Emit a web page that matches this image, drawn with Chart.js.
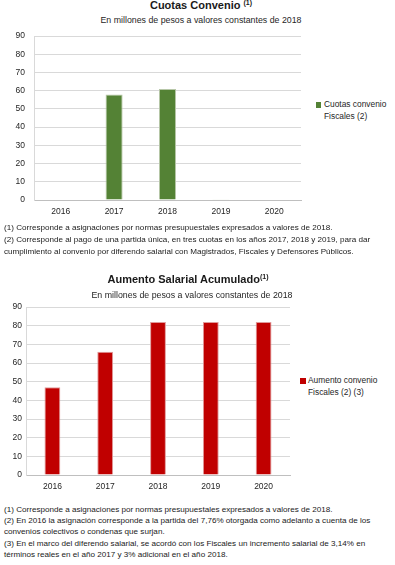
<!DOCTYPE html>
<html>
<head>
<meta charset="utf-8">
<script src="https://cdn.jsdelivr.net/npm/chart.js@4"></script>
<style>
  body { margin: 0; background: #fff; width: 395px; height: 565px; position: relative; overflow: hidden; font-family: "Liberation Sans", Arial, sans-serif; color: #262626; }
  .abs { position: absolute; white-space: nowrap; }
  .title { font-weight: bold; font-size: 11px; text-align: center; color: #1a1a1a; }
  .title sup { font-size: 7px; vertical-align: 4px; }
  .sub { font-size: 8.8px; text-align: center; }
  .legend { font-size: 8.4px; line-height: 11.5px; }
  .legend .box { position: absolute; width: 5px; height: 6px; }
  .note { font-size: 8.1px; line-height: 11.8px; color: #1a1a1a; }
  canvas { position: absolute; }
</style>
</head>
<body>
<div class="abs title" style="left:0;width:402px;top:-1px;">Cuotas Convenio <sup>(1)</sup></div>
<div class="abs sub" style="left:0;width:402px;top:15px;">En millones de pesos a valores constantes de 2018</div>
<canvas id="cuotasChart" width="305" height="202" style="left:0;top:22px;"></canvas>
<div class="abs legend" style="left:316px;top:99px;">
  <div class="box" style="left:0;top:3px;background:#548235;"></div>
  <div style="margin-left:8px;">Cuotas convenio<br>Fiscales (2)</div>
</div>
<div class="abs note" style="left:4px;top:222px;">(1) Corresponde a asignaciones por normas presupuestales expresados a valores de 2018.<br>(2) Corresponde al pago de una partida única, en tres cuotas en los años 2017, 2018 y 2019, para dar<br>cumplimiento al convenio por diferendo salarial con Magistrados, Fiscales y Defensores Públicos.</div>

<div class="abs title" style="left:0;width:376px;top:273px;">Aumento Salarial Acumulado<sup>(1)</sup></div>
<div class="abs sub" style="left:0;width:384px;top:290px;">En millones de pesos a valores constantes de 2018</div>
<canvas id="aumentoChart" width="294" height="201" style="left:0;top:298px;"></canvas>
<div class="abs legend" style="left:300px;top:375px;">
  <div class="box" style="left:0;top:3px;width:6px;background:#c00000;"></div>
  <div style="margin-left:8px;">Aumento convenio<br>Fiscales (2) (3)</div>
</div>
<div class="abs note" style="left:4px;top:504px;line-height:11.2px;">(1) Corresponde a asignaciones por normas presupuestales expresados a valores de 2018.<br>(2) En 2016 la asignación corresponde a la partida del 7,76% otorgada como adelanto a cuenta de los<br>convenios colectivos o condenas que surjan.<br>(3) En el marco del diferendo salarial, se acordó con los Fiscales un incremento salarial de 3,14% en<br>términos reales en el año 2017 y 3% adicional en el año 2018.</div>

<script>
const years = ['2016', '2017', '2018', '2019', '2020'];
const cuotasValues = [0, 58, 61, 0.4, 0];
const aumentoValues = [47, 66, 82, 82, 82];
const yTicks = [0, 10, 20, 30, 40, 50, 60, 70, 80, 90];

const gridColor = '#d9d9d9';
const tickFont = { family: 'Liberation Sans', size: 8.5 };

function makeChart(id, label, values, color, edge, axisWidth, labelPad, barPct) {
    const ctx = document.getElementById(id).getContext('2d');
    return new Chart(ctx, {
        type: 'bar',
        data: {
            labels: years,
            datasets: [{
                label: label,
                data: values,
                backgroundColor: color,
                borderColor: edge,
                borderWidth: 1,
                categoryPercentage: 1,
                barPercentage: barPct,
            }],
        },
        options: {
            responsive: false,
            animation: false,
            layout: { padding: { top: 8, right: 4, left: 0, bottom: 0 } },
            plugins: {
                legend: { display: false },
                tooltip: { enabled: false },
            },
            scales: {
                x: {
                    grid: { display: false, drawTicks: false },
                    border: { display: true, color: '#bfbfbf' },
                    ticks: { font: tickFont, color: '#262626', padding: 7 },
                    afterFit: (s) => { s.height = 24; },
                },
                y: {
                    min: 0,
                    max: 90,
                    afterBuildTicks: (s) => { s.ticks = yTicks.map(v => ({ value: v })); },
                    grid: { color: gridColor, drawTicks: false },
                    border: { display: true, color: gridColor },
                    ticks: { font: tickFont, color: '#262626', padding: labelPad },
                    afterFit: (s) => { s.width = axisWidth; },
                },
            },
        },
    });
}

makeChart('cuotasChart', 'Cuotas convenio Fiscales (2)', cuotasValues, '#548235', '#b7c7a8', 34, 9, 0.32);
makeChart('aumentoChart', 'Aumento convenio Fiscales (2) (3)', aumentoValues, '#c00000', '#e09a9a', 26, 4, 0.30);
</script>
</body>
</html>
